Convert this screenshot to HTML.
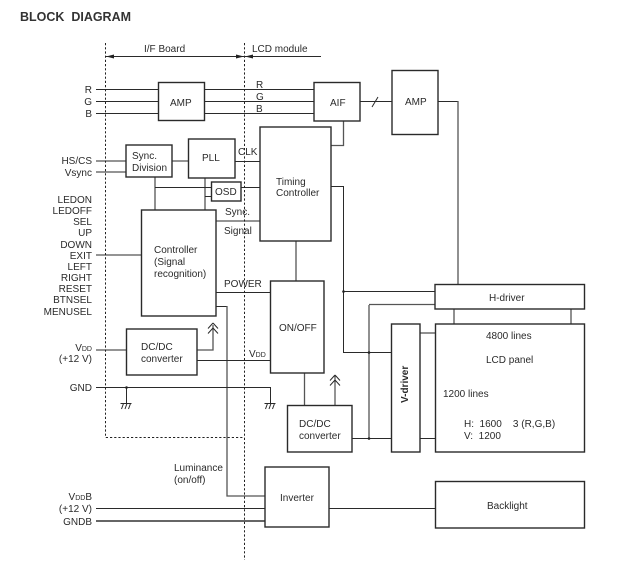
<!DOCTYPE html>
<html>
<head>
<meta charset="utf-8">
<style>
html,body{margin:0;padding:0;background:#fff;width:629px;height:573px;overflow:hidden}
svg{display:block}
text{font-family:"Liberation Sans",sans-serif;font-size:10px;fill:#2a2a2a}
.e{text-anchor:end}
.l{stroke:#2a2a2a;stroke-width:1;fill:none}
.g{stroke:#555;stroke-width:1.3;fill:none}
.b{stroke:#2a2a2a;stroke-width:1.4;fill:#fff}
.d{stroke:#222;stroke-width:1;stroke-dasharray:2.2 2;fill:none}
</style>
</head>
<body>
<svg width="629" height="573" viewBox="0 0 629 573" xmlns="http://www.w3.org/2000/svg">
<defs>
<g id="gnd"><path class="l" d="M-5.5 .5H5.5M-2.5 .5L-4.5 6M1 .5L-1 6M4.5 .5L2.5 6"/></g>
<g id="up"><path class="l" d="M0 0L-5 5.500M0 0L5 5.500M0 5L-5 10.500M0 5L5 10.500"/></g>
</defs>

<text x="20" y="21" style="font-size:12.5px;font-weight:bold;fill:#333" xml:space="preserve" textLength="111" lengthAdjust="spacingAndGlyphs">BLOCK  DIAGRAM</text>

<!-- connectors -->
<path class="l" d="M96 89.500H158M96 101.500H158M96 113.500H158M204 89.500H314M204 101.500H314M204 113.500H314"/>
<path class="l" d="M360 101.500H392M372 107L378 97"/>
<path class="l" d="M438 101.500H458"/>
<path class="g" d="M458 101V284"/>
<path class="g" d="M343.500 121V145.500H331"/>
<path class="l" d="M331 186.500H343.500V352.500H391"/>
<path class="l" d="M343.500 291.500H435"/>
<path class="g" d="M369 305V438"/>
<path class="g" d="M369 304.500H435"/>
<path class="l" d="M352 438.500H391M420 438.500H435"/>
<path class="g" d="M420 333H435"/>
<path class="g" d="M454 309V324M571 309V324"/>
<path class="g" d="M96 161H126M96 172H126M172 161H188"/>
<path class="l" d="M235 161.500H260"/>
<path class="g" d="M155 177V210M205 178V210"/>
<path class="l" d="M155 187.500H211M205 196.500H211M241 187.500H260"/>
<path class="g" d="M216 221H260"/>
<path class="l" d="M96 255H141"/>
<path class="g" d="M296 241V281"/>
<path class="l" d="M216 292.500H270"/>
<path class="l" d="M216 306.500H227"/>
<path class="g" d="M227 306V496H265"/>
<path class="g" d="M96 350H126M197 350H213V325"/>
<path class="l" d="M197 360.500H270"/>
<path class="l" d="M96 387.500H270.500V403M126.500 387.500V403"/>
<path class="g" d="M304.500 373V405"/>
<path class="l" d="M335 405V376"/>
<path class="l" d="M96 508.500H265M329 508.500H435"/>
<path d="M96 521H265" stroke="#666" stroke-width="2" fill="none"/>

<!-- junction dots -->
<circle cx="126.500" cy="387.500" r="1.300" fill="#222"/>
<circle cx="343.500" cy="291.500" r="1.300" fill="#222"/>
<circle cx="369" cy="352.500" r="1.300" fill="#222"/>
<circle cx="369" cy="438.500" r="1.300" fill="#222"/>

<!-- symbols -->
<use href="#gnd" x="126" y="403"/>
<use href="#gnd" x="270" y="403"/>
<use href="#up" x="213" y="323"/>
<use href="#up" x="335" y="375"/>

<!-- dashed boundary -->
<path class="d" d="M105.500 43V437.500H244.500"/>
<path class="d" d="M244.500 43V560"/>

<!-- board arrows -->
<path class="l" d="M106 56.500H255"/>
<path d="M106 56.500L114 54.500V58.500ZM244 56.500L236 54.500V58.500ZM245 56.500L253 54.500V58.500Z" fill="#222"/>
<path class="l" d="M255 56.500H321"/>

<!-- boxes -->
<rect class="b" x="158.500" y="82.500" width="46" height="38"/>
<rect class="b" x="314" y="82.500" width="46" height="38.500"/>
<rect class="b" x="392" y="70.500" width="46" height="64"/>
<rect class="b" x="260" y="127" width="71" height="114"/>
<rect class="b" x="126" y="145" width="46" height="32"/>
<rect class="b" x="188.500" y="139" width="46.500" height="39"/>
<rect class="b" x="211.500" y="182" width="29.500" height="19"/>
<rect class="b" x="141.500" y="210" width="74.500" height="106"/>
<rect class="b" x="126.500" y="329" width="70.500" height="46"/>
<rect class="b" x="270.500" y="281" width="53.500" height="92"/>
<rect class="b" x="287.500" y="405.500" width="64.500" height="46.500"/>
<rect class="b" x="435" y="284.500" width="149.500" height="24.500"/>
<rect class="b" x="391.500" y="324" width="28.500" height="128"/>
<rect class="b" x="435.500" y="324" width="149" height="128"/>
<rect class="b" x="265" y="467" width="64" height="60"/>
<rect class="b" x="435.500" y="481.500" width="149" height="46.500"/>

<!-- labels -->
<text x="144" y="52">I/F Board</text>
<text x="252" y="52">LCD module</text>
<text class="e" x="92" y="93">R</text>
<text class="e" x="92" y="105">G</text>
<text class="e" x="92" y="117">B</text>
<text x="170" y="106">AMP</text>
<text x="256" y="88">R</text>
<text x="256" y="100">G</text>
<text x="256" y="112">B</text>
<text x="330" y="106">AIF</text>
<text x="405" y="105">AMP</text>
<text class="e" x="92" y="164">HS/CS</text>
<text class="e" x="92" y="176">Vsync</text>
<text x="132" y="159">Sync.</text>
<text x="132" y="171">Division</text>
<text x="202" y="161">PLL</text>
<text x="238" y="155">CLK</text>
<text x="215" y="195">OSD</text>
<text x="276" y="185">Timing</text>
<text x="276" y="196">Controller</text>
<text x="225" y="215">Sync.</text>
<text x="224" y="234">Signal</text>
<text class="e" x="92" y="203">LEDON</text>
<text class="e" x="92" y="214">LEDOFF</text>
<text class="e" x="92" y="225">SEL</text>
<text class="e" x="92" y="236">UP</text>
<text class="e" x="92" y="248">DOWN</text>
<text class="e" x="92" y="259">EXIT</text>
<text class="e" x="92" y="270">LEFT</text>
<text class="e" x="92" y="281">RIGHT</text>
<text class="e" x="92" y="292">RESET</text>
<text class="e" x="92" y="303">BTNSEL</text>
<text class="e" x="92" y="315">MENUSEL</text>
<text x="154" y="253">Controller</text>
<text x="154" y="265">(Signal</text>
<text x="154" y="277">recognition)</text>
<text x="224" y="287">POWER</text>
<text x="279" y="331">ON/OFF</text>
<text class="e" x="92" y="351">V<tspan style="font-size:7px">DD</tspan></text>
<text class="e" x="92" y="362">(+12 V)</text>
<text x="141" y="350">DC/DC</text>
<text x="141" y="362">converter</text>
<text x="249" y="357">V<tspan style="font-size:7px">DD</tspan></text>
<text class="e" x="92" y="391">GND</text>
<text x="299" y="427">DC/DC</text>
<text x="299" y="439">converter</text>
<text x="489" y="301">H-driver</text>
<text x="486" y="339">4800 lines</text>
<text x="486" y="363">LCD panel</text>
<text x="443" y="397">1200 lines</text>
<text x="464" y="427" xml:space="preserve">H:  1600    3 (R,G,B)</text>
<text x="464" y="439" xml:space="preserve">V:  1200</text>
<text x="0" y="0" transform="translate(408,403) rotate(-90)" style="font-weight:bold;font-size:10px">V-driver</text>
<text x="174" y="471">Luminance</text>
<text x="174" y="483">(on/off)</text>
<text class="e" x="92" y="500">V<tspan style="font-size:7px">DD</tspan>B</text>
<text class="e" x="92" y="512">(+12 V)</text>
<text class="e" x="92" y="525">GNDB</text>
<text x="280" y="501">Inverter</text>
<text x="487" y="509">Backlight</text>
</svg>
</body>
</html>
